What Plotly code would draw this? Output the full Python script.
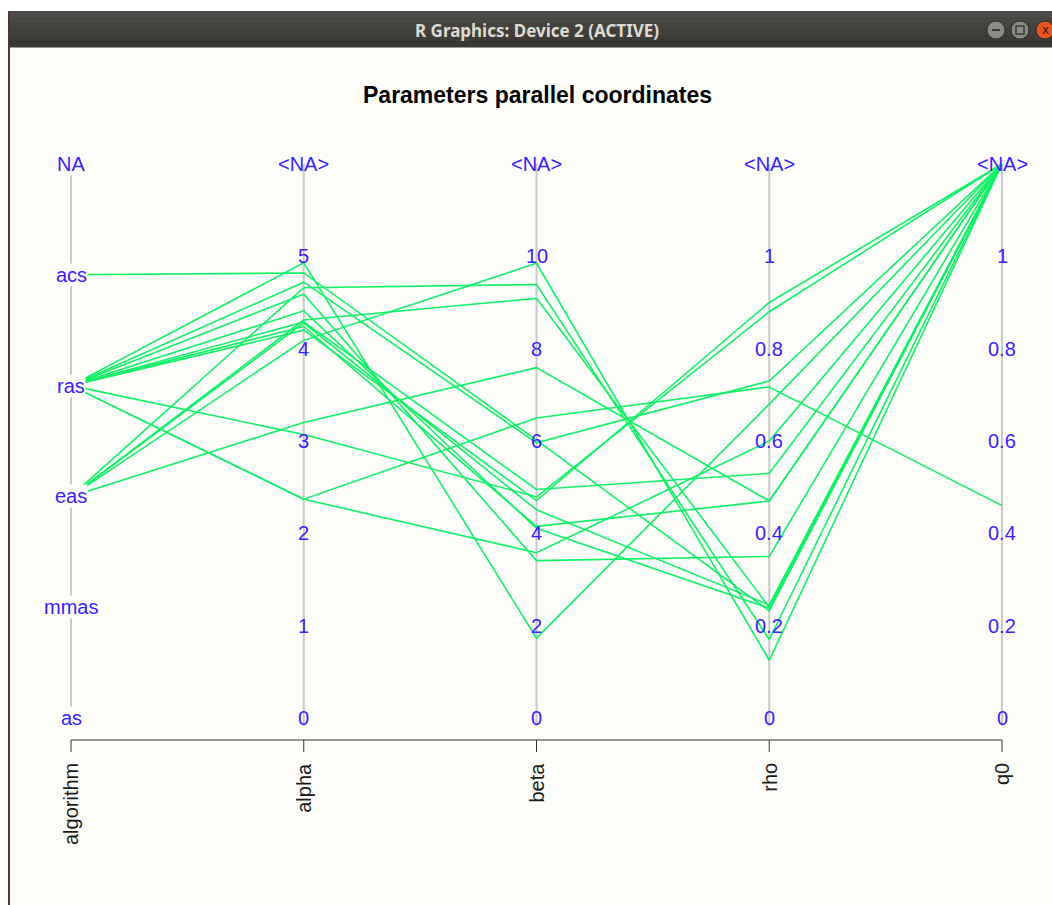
import plotly.graph_objects as go

# ---- data: one row per tuned configuration ----
algorithm = ["ras", "acs", "ras", "eas", "ras", "ras", "eas", "ras",
             "eas", "ras", "ras", "eas", "eas", "ras", "ras", "ras"]
alpha = [4.93, 4.82, 4.72, 4.66, 4.59, 4.41, 4.31, 4.29,
         4.28, 4.24, 4.20, 4.09, 3.20, 3.07, 2.37, 2.37]
beta = [1.73, 6.02, 5.96, 9.39, 3.41, 4.11, 9.09, 4.95,
        4.51, 4.15, 4.71, 9.85, 7.59, 4.79, 3.58, 6.50]
rho = [0.68, 0.232, 0.73, 0.17, 0.35, 0.238, 0.24, 0.53,
       0.245, 0.47, 0.90, 0.125, 0.47, 0.88, 0.60, 0.717]
q0 = [None, None, None, None, None, None, None, None,
      None, None, None, None, None, None, None, 0.46]

# ---- axis definitions ----
dimensions = ["algorithm", "alpha", "beta", "rho", "q0"]
algorithm_levels = ["as", "mmas", "eas", "ras", "acs"]
alpha_ticks = [0, 1, 2, 3, 4, 5]
beta_ticks = [0, 2, 4, 6, 8, 10]
rho_ticks = [0, 0.2, 0.4, 0.6, 0.8, 1]
q0_ticks = [0, 0.2, 0.4, 0.6, 0.8, 1]
na_labels = ["NA", "<NA>", "<NA>", "<NA>", "<NA>"]

LINE_GREEN = "#12f066"
LABEL_BLUE = "#3a22ff"
CANVAS = "#fdfdf9"
FONT = "Liberation Sans, Arial, Helvetica, sans-serif"

# page geometry (pixels) -> data coordinates; the plot area covers the page
W, H = 1052, 905
AX_LEFT, AX_RIGHT = 71, 1002        # first / last vertical axis
AX_TOP, AX_BOTTOM = 164, 718        # NA level / zero level
XSTEP = (AX_RIGHT - AX_LEFT) / 4
YSPAN = AX_BOTTOM - AX_TOP


def X(px):
    return (px - AX_LEFT) / XSTEP


def Y(py):
    return (AX_BOTTOM - py) / YSPAN


def scaled(values, ticks):
    """Map numeric values onto [0, 1]; missing values sit one step above the last tick."""
    top = ticks[-1] + (ticks[1] - ticks[0])
    return [1.0 if v is None else v / top for v in values], top


alg_pos = [algorithm_levels.index(a) / len(algorithm_levels) for a in algorithm]
alpha_pos, alpha_top = scaled(alpha, alpha_ticks)
beta_pos, beta_top = scaled(beta, beta_ticks)
rho_pos, rho_top = scaled(rho, rho_ticks)
q0_pos, q0_top = scaled(q0, q0_ticks)

fig = go.Figure()

for i in range(len(algorithm)):
    fig.add_trace(go.Scatter(
        x=list(range(len(dimensions))),
        y=[alg_pos[i], alpha_pos[i], beta_pos[i], rho_pos[i], q0_pos[i]],
        mode="lines",
        line=dict(color=LINE_GREEN, width=1.6),
        hoverinfo="skip",
        showlegend=False,
    ))

shapes = []
annotations = []

# window frame: white strip, title bar, left border, canvas
shapes.append(dict(type="rect", x0=X(0), x1=X(W), y0=Y(0), y1=Y(H),
                   fillcolor="#ffffff", line_width=0, layer="below"))
shapes.append(dict(type="rect", x0=X(10), x1=X(W), y0=Y(47), y1=Y(H),
                   fillcolor=CANVAS, line_width=0, layer="below"))
bar_colors = ["#4d4c48", "#484743", "#44433f", "#403f3b", "#3c3b37", "#393834"]
band = (47 - 11) / len(bar_colors)
for k, c in enumerate(bar_colors):
    shapes.append(dict(type="rect", x0=X(8), x1=X(W),
                       y0=Y(11 + k * band), y1=Y(11 + (k + 1) * band + 0.5),
                       fillcolor=c, line_width=0, layer="below"))
shapes.append(dict(type="line", x0=X(9), x1=X(9), y0=Y(12), y1=Y(H),
                   line=dict(color="#5a302c", width=2), layer="below"))

# title bar buttons
for cx, fill in [(996, "#8b8a85"), (1020, "#8b8a85"), (1045, "#e9541f")]:
    shapes.append(dict(type="circle", x0=X(cx - 9), x1=X(cx + 9),
                       y0=Y(30 - 9), y1=Y(30 + 9),
                       fillcolor=fill, line=dict(color="#2e2d2a", width=1),
                       layer="below"))
shapes.append(dict(type="line", x0=X(992), x1=X(1000), y0=Y(30), y1=Y(30),
                   line=dict(color="#3a3935", width=2), layer="below"))
shapes.append(dict(type="rect", x0=X(1016), x1=X(1024), y0=Y(34), y1=Y(26),
                   line=dict(color="#3a3935", width=1.5), fillcolor="rgba(0,0,0,0)",
                   layer="below"))
annotations.append(dict(x=X(1045), y=Y(30), text="x", showarrow=False,
                        font=dict(family="DejaVu Sans", size=12, color="#3a1a10")))
annotations.append(dict(x=X(537), y=Y(30), text="<b>R Graphics: Device 2 (ACTIVE)</b>",
                        showarrow=False,
                        font=dict(family="Noto Sans, DejaVu Sans", size=17, color="#dfdbd2")))

# vertical gray axes
for i in range(len(dimensions)):
    shapes.append(dict(type="line", x0=i, x1=i, y0=Y(726), y1=1.0,
                       line=dict(color="#c9c9c9", width=2), layer="below"))

# bottom axis with ticks
shapes.append(dict(type="line", x0=0, x1=len(dimensions) - 1, y0=Y(740), y1=Y(740),
                   line=dict(color="#333333", width=1), layer="above"))
for i, name in enumerate(dimensions):
    shapes.append(dict(type="line", x0=i, x1=i, y0=Y(740), y1=Y(752),
                       line=dict(color="#333333", width=1), layer="above"))
    annotations.append(dict(x=i, y=Y(761), text=name, textangle=-90,
                            showarrow=False, xanchor="center", yanchor="top",
                            font=dict(family=FONT, size=20, color="#1a1a1a")))

label_font = dict(family=FONT, size=20, color=LABEL_BLUE)

# categorical axis labels (opaque so lines meet the label edge)
for k, lev in enumerate(algorithm_levels):
    annotations.append(dict(x=0, y=k / len(algorithm_levels), text=lev, showarrow=False,
                            bgcolor=CANVAS, borderpad=0, font=label_font))

# numeric axis labels
numeric_axes = [(1, alpha_ticks, alpha_top), (2, beta_ticks, beta_top),
                (3, rho_ticks, rho_top), (4, q0_ticks, q0_top)]
for i, ticks, top in numeric_axes:
    for t in ticks:
        annotations.append(dict(x=i, y=t / top, text=f"{t:g}", showarrow=False,
                                font=label_font))

# missing-value level on every axis
for i, lab in enumerate(na_labels):
    annotations.append(dict(x=i, y=1.0, text=lab, showarrow=False,
                            bgcolor=CANVAS if i == 0 else None, borderpad=0,
                            font=label_font))

annotations.append(dict(x=X(537), y=Y(95), text="<b>Parameters parallel coordinates</b>",
                        showarrow=False,
                        font=dict(family=FONT, size=23, color="#000000")))

fig.update_layout(
    width=W, height=H,
    margin=dict(l=0, r=0, t=0, b=0),
    paper_bgcolor="#ffffff",
    plot_bgcolor="#ffffff",
    xaxis=dict(range=[X(0), X(W)], visible=False, fixedrange=True),
    yaxis=dict(range=[Y(H), Y(0)], visible=False, fixedrange=True),
    shapes=shapes,
    annotations=annotations,
    showlegend=False,
)

fig.write_html("out.html")
